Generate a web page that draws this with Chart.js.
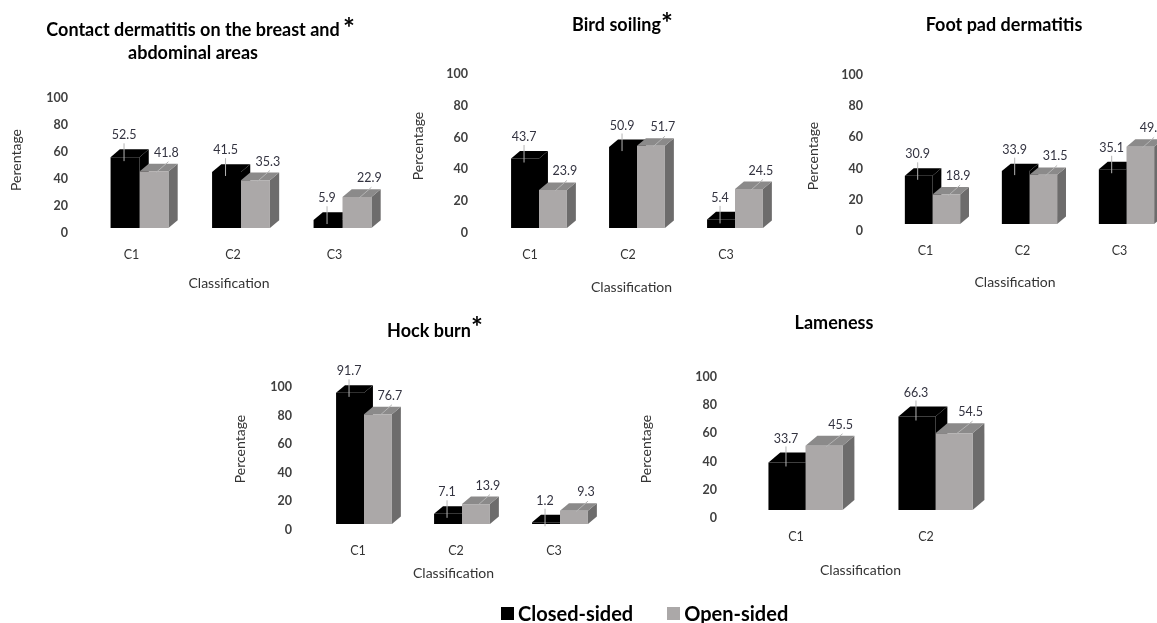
<!DOCTYPE html>
<html>
<head>
<meta charset="utf-8">
<script src="https://cdn.jsdelivr.net/npm/chart.js@4.4.1/dist/chart.umd.min.js"></script>
<style>
  html, body { margin: 0; padding: 0; background: #fff; overflow: hidden; width: 1157px; height: 623px; }
  canvas { position: absolute; left: 0; top: 0; }
  #legend { position: absolute; left: 501px; top: 601px; display: flex; align-items: center;
            font: bold 20px Lato, "Open Sans", sans-serif; color: #000; }
  #legend .item { display: flex; align-items: center; margin-right: 34px; }
  #legend .sw { width: 13px; height: 13px; margin-right: 4px; }
</style>
</head>
<body>
<canvas id="c1" width="1200" height="623"></canvas>
<canvas id="c2" width="1200" height="623"></canvas>
<canvas id="c3" width="1200" height="623"></canvas>
<canvas id="c4" width="1200" height="623"></canvas>
<canvas id="c5" width="1200" height="623"></canvas>
<div id="legend"></div>
<script>
// ---- data ----
const categories3 = ['C1', 'C2', 'C3'];
const categories2 = ['C1', 'C2'];
const seriesNames = ['Closed-sided', 'Open-sided'];
const yTicks = [0, 20, 40, 60, 80, 100];

const contactClosed = [52.5, 41.5, 5.9];
const contactOpen   = [41.8, 35.3, 22.9];
const birdClosed    = [43.7, 50.9, 5.4];
const birdOpen      = [23.9, 51.7, 24.5];
const footClosed    = [30.9, 33.9, 35.1];
const footOpen      = [18.9, 31.5, 49.5];
const hockClosed    = [91.7, 7.1, 1.2];
const hockOpen      = [76.7, 13.9, 9.3];
const lameClosed    = [33.7, 66.3];
const lameOpen      = [45.5, 54.5];

// ---- style ----
const FONT = 'Lato, "Open Sans", sans-serif';
const frontColors = ['#000000', '#aba8a8'];
const topColors   = ['#000000', '#8b8a8a'];
const sideColors  = ['#000000', '#6d6c6c'];
const CANVAS_W = 1200, CANVAS_H = 623;
const Y_AXIS_W = 60, X_AXIS_H = 40;

// ---- panel layout ----
const panels = [
  { id: 'c1', title: ['Contact dermatitis on the breast and', 'abdominal areas'], titleX: 193, titleY: [30, 53], star: [349, 23],
    yTitle: 'Perentage', yTitlePos: [16, 160], xTitlePos: [229, 283.5],
    categories: categories3, closed: contactClosed, open: contactOpen,
    area: { left: 88.75, right: 393.25, top: 93, bottom: 228 }, yLabelRight: 68, xShift: -8, yShift: 5 },
  { id: 'c2', title: ['Bird soiling'], titleX: 616.5, titleY: [25], star: [667, 18],
    yTitle: 'Percentage', yTitlePos: [418, 146], xTitlePos: [631.5, 287],
    categories: categories3, closed: birdClosed, open: birdOpen,
    area: { left: 490, right: 784, top: 69, bottom: 228 }, yLabelRight: 468, xShift: -9, yShift: 5 },
  { id: 'c3', title: ['Foot pad dermatitis'], titleX: 1004, titleY: [25], star: null,
    yTitle: 'Percentage', yTitlePos: [813, 156], xTitlePos: [1015, 282],
    categories: categories3, closed: footClosed, open: footOpen,
    area: { left: 884, right: 1175, top: 68, bottom: 224 }, yLabelRight: 863, xShift: -7, yShift: 7 },
  { id: 'c4', title: ['Hock burn'], titleX: 429, titleY: [331], star: [477, 322],
    yTitle: 'Percentage', yTitlePos: [240, 449], xTitlePos: [453.5, 573],
    categories: categories3, closed: hockClosed, open: hockOpen,
    area: { left: 315, right: 609, top: 381, bottom: 524 }, yLabelRight: 292, xShift: -6, yShift: 6 },
  { id: 'c5', title: ['Lameness'], titleX: 834, titleY: [323.5], star: null,
    yTitle: 'Percentage', yTitlePos: [646, 449], xTitlePos: [860.5, 570],
    categories: categories2, closed: lameClosed, open: lameOpen,
    area: { left: 740.5, right: 1000.5, top: 369, bottom: 510 }, yLabelRight: 717, xShift: -9.5, yShift: 8 }
];

// Extrudes each bar into a box: side and top faces are painted behind the
// front faces that Chart.js draws itself.
const bar3d = {
  id: 'bar3d',
  beforeDatasetsDraw(chart) {
    const ctx = chart.ctx;
    ctx.save();
    chart.data.datasets.forEach((ds, d) => {
      chart.getDatasetMeta(d).data.forEach(el => {
        const w = el.width, l = el.x - w / 2, r = el.x + w / 2, t = el.y, b = el.base;
        const dx = w * 0.32, dy = -w * 0.27;
        ctx.fillStyle = sideColors[d];
        ctx.beginPath();
        ctx.moveTo(r, b); ctx.lineTo(r, t); ctx.lineTo(r + dx, t + dy); ctx.lineTo(r + dx, b + dy);
        ctx.closePath(); ctx.fill();
        ctx.fillStyle = topColors[d];
        ctx.beginPath();
        ctx.moveTo(l, t); ctx.lineTo(r, t); ctx.lineTo(r + dx, t + dy); ctx.lineTo(l + dx, t + dy);
        ctx.closePath(); ctx.fill();
      });
    });
    ctx.restore();
  }
};

// Value labels with short leader lines
const valueLabels = {
  id: 'valueLabels',
  afterDatasetsDraw(chart) {
    const ctx = chart.ctx;
    ctx.save();
    ctx.font = '12.5px ' + FONT;
    ctx.textAlign = 'center';
    ctx.textBaseline = 'middle';
    chart.data.datasets.forEach((ds, d) => {
      chart.getDatasetMeta(d).data.forEach((el, i) => {
        const v = ds.data[i];
        const w = el.width, r = el.x + w / 2, t = el.y, dy = -w * 0.27;
        let tx, ty, x0, y0, x1, y1;
        if (d === 0) {
          tx = el.x - 1; ty = t + dy - 14;
          x0 = tx; y0 = ty + 8; x1 = tx; y1 = t + 4;
        } else {
          tx = r - 2; ty = t + dy - 11;
          x0 = r; y0 = t + dy - 2; x1 = el.x + 2; y1 = t + 1;
        }
        ctx.strokeStyle = '#b4b4b4';
        ctx.lineWidth = 1;
        ctx.beginPath(); ctx.moveTo(x0, y0); ctx.lineTo(x1, y1); ctx.stroke();
        ctx.fillStyle = '#333340';
        ctx.fillText(v.toFixed(1), tx, ty);
      });
    });
    ctx.restore();
  }
};

// Panel title and axis titles
function panelText(p) {
  return {
    id: 'panelText',
    afterDraw(chart) {
      const ctx = chart.ctx;
      ctx.save();
      ctx.fillStyle = '#000';
      ctx.textAlign = 'center';
      ctx.textBaseline = 'middle';
      ctx.font = 'bold 18px ' + FONT;
      p.title.forEach((line, k) => ctx.fillText(line, p.titleX, p.titleY[k]));
      if (p.star) {
        ctx.font = 'bold 28px ' + FONT;
        ctx.textBaseline = 'alphabetic';
        ctx.fillText('*', p.star[0], p.star[1] + 15);
        ctx.textBaseline = 'middle';
      }
      ctx.fillStyle = '#333';
      ctx.font = '14px ' + FONT;
      ctx.fillText('Classification', p.xTitlePos[0], p.xTitlePos[1]);
      ctx.translate(p.yTitlePos[0], p.yTitlePos[1]);
      ctx.rotate(-Math.PI / 2);
      ctx.fillText(p.yTitle, 0, 0);
      ctx.restore();
    }
  };
}

panels.forEach(p => {
  const a = p.area;
  new Chart(document.getElementById(p.id), {
    type: 'bar',
    data: {
      labels: p.categories,
      datasets: [
        { label: seriesNames[0], data: p.closed, backgroundColor: frontColors[0] },
        { label: seriesNames[1], data: p.open, backgroundColor: frontColors[1] }
      ]
    },
    options: {
      responsive: false,
      animation: false,
      events: [],
      datasets: { bar: { categoryPercentage: 0.57, barPercentage: 1 } },
      layout: {
        padding: {
          left: a.left - Y_AXIS_W,
          right: CANVAS_W - a.right,
          top: a.top,
          bottom: CANVAS_H - a.bottom - X_AXIS_H
        }
      },
      plugins: { legend: { display: false }, tooltip: { enabled: false } },
      scales: {
        x: {
          grid: { display: false, drawTicks: false },
          border: { display: false },
          ticks: { padding: 19, labelOffset: p.xShift, color: '#333', font: { family: FONT, size: 12.5 } },
          afterFit: s => { s.height = X_AXIS_H; }
        },
        y: {
          min: 0, max: 100,
          grid: { display: false, drawTicks: false },
          border: { display: false },
          afterBuildTicks: s => { s.ticks = yTicks.map(v => ({ value: v })); },
          ticks: { padding: a.left - p.yLabelRight, labelOffset: p.yShift, color: '#404040',
                   font: { family: FONT, size: 12.5, weight: 'bold' } },
          afterFit: s => { s.width = Y_AXIS_W; }
        }
      }
    },
    plugins: [bar3d, valueLabels, panelText(p)]
  });
});

// Shared legend
const legend = document.getElementById('legend');
seriesNames.forEach((name, d) => {
  const item = document.createElement('div');
  item.className = 'item';
  const sw = document.createElement('span');
  sw.className = 'sw';
  sw.style.background = frontColors[d];
  const txt = document.createElement('span');
  txt.textContent = name;
  item.appendChild(sw); item.appendChild(txt);
  legend.appendChild(item);
});
</script>
</body>
</html>
